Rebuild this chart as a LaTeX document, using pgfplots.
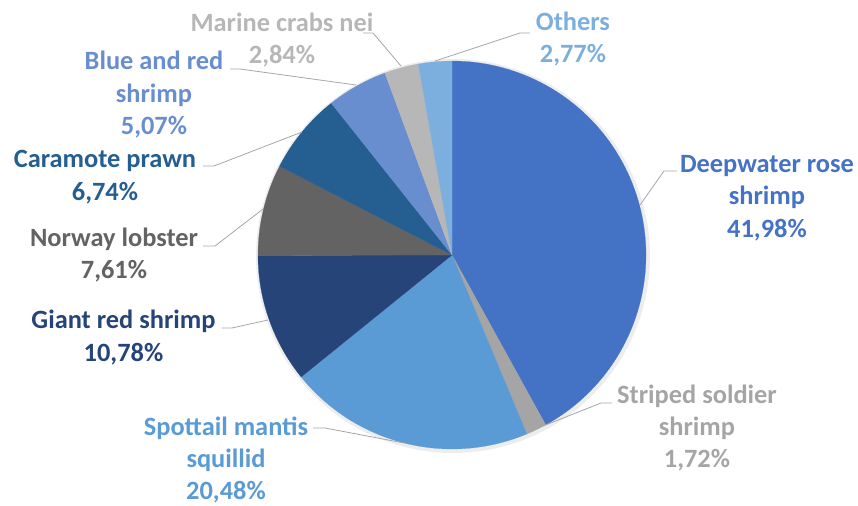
\documentclass[border=0pt]{standalone}
\usepackage{pgfplots}
\pgfplotsset{compat=1.18}
\usepackage{fontspec}
\setmainfont{Carlito}
\definecolor{cA}{HTML}{4472C4}
\definecolor{cB}{HTML}{A5A5A5}
\definecolor{cC}{HTML}{5B9BD5}
\definecolor{cD}{HTML}{264478}
\definecolor{cE}{HTML}{636363}
\definecolor{cF}{HTML}{255E91}
\definecolor{cG}{HTML}{698ED0}
\definecolor{cH}{HTML}{B7B7B7}
\definecolor{cI}{HTML}{7CAFDD}
\definecolor{leader}{HTML}{A6A6A6}
\newcommand{\lbl}{\fontsize{26.4bp}{32.5bp}\selectfont\bfseries}
% shares (%)
\def\vA{41.98}\def\vB{1.72}\def\vC{20.48}\def\vD{10.78}\def\vE{7.61}
\def\vF{6.74}\def\vG{5.07}\def\vH{2.84}\def\vI{2.77}
\begin{document}
\begin{tikzpicture}
\pgfmathsetmacro\aA{90}
\pgfmathsetmacro\aB{\aA-3.6*\vA}
\pgfmathsetmacro\aC{\aB-3.6*\vB}
\pgfmathsetmacro\aD{\aC-3.6*\vC}
\pgfmathsetmacro\aE{\aD-3.6*\vD}
\pgfmathsetmacro\aF{\aE-3.6*\vE}
\pgfmathsetmacro\aG{\aF-3.6*\vF}
\pgfmathsetmacro\aH{\aG-3.6*\vG}
\pgfmathsetmacro\aI{\aH-3.6*\vH}
\pgfmathsetmacro\aJ{-270}
\begin{axis}[width=858bp,height=504bp,scale only axis,hide axis,
  xmin=0,xmax=858,ymin=0,ymax=504,y dir=reverse,clip=false]
\addplot[draw=none] coordinates {(0,0) (858,504)};
% soft shadow
\addplot[fill=black,fill opacity=0.07,draw=none,domain=0:360,samples=150,variable=\t]
  ({453+197*cos(\t)},{256-197*sin(\t)}) -- cycle;
% slices
\addplot[fill=cA,draw=cA,line width=0.2pt,domain=\aB:\aA,samples=90,variable=\t]
  ({452+194*cos(\t)},{255-194*sin(\t)}) -- (axis cs:452,255) -- cycle;
\addplot[fill=cB,draw=cB,line width=0.2pt,domain=\aC:\aB,samples=10,variable=\t]
  ({452+194*cos(\t)},{255-194*sin(\t)}) -- (axis cs:452,255) -- cycle;
\addplot[fill=cC,draw=cC,line width=0.2pt,domain=\aD:\aC,samples=50,variable=\t]
  ({452+194*cos(\t)},{255-194*sin(\t)}) -- (axis cs:452,255) -- cycle;
\addplot[fill=cD,draw=cD,line width=0.2pt,domain=\aE:\aD,samples=30,variable=\t]
  ({452+194*cos(\t)},{255-194*sin(\t)}) -- (axis cs:452,255) -- cycle;
\addplot[fill=cE,draw=cE,line width=0.2pt,domain=\aF:\aE,samples=25,variable=\t]
  ({452+194*cos(\t)},{255-194*sin(\t)}) -- (axis cs:452,255) -- cycle;
\addplot[fill=cF,draw=cF,line width=0.2pt,domain=\aG:\aF,samples=25,variable=\t]
  ({452+194*cos(\t)},{255-194*sin(\t)}) -- (axis cs:452,255) -- cycle;
\addplot[fill=cG,draw=cG,line width=0.2pt,domain=\aH:\aG,samples=20,variable=\t]
  ({452+194*cos(\t)},{255-194*sin(\t)}) -- (axis cs:452,255) -- cycle;
\addplot[fill=cH,draw=cH,line width=0.2pt,domain=\aI:\aH,samples=12,variable=\t]
  ({452+194*cos(\t)},{255-194*sin(\t)}) -- (axis cs:452,255) -- cycle;
\addplot[fill=cI,draw=cI,line width=0.2pt,domain=\aJ:\aI,samples=12,variable=\t]
  ({452+194*cos(\t)},{255-194*sin(\t)}) -- (axis cs:452,255) -- cycle;
% leader lines
\addplot[leader,line width=0.8pt,sharp plot] coordinates {(677,171) (664,171) (640,205)};
\addplot[leader,line width=0.8pt,sharp plot] coordinates {(612,403) (601,403) (543,426)};
\addplot[leader,line width=0.8pt,sharp plot] coordinates {(313,428) (325,428) (404,443)};
\addplot[leader,line width=0.8pt,sharp plot] coordinates {(222,328) (232,328) (268,320)};
\addplot[leader,line width=0.8pt,sharp plot] coordinates {(203,246) (215,246) (263,209)};
\addplot[leader,line width=0.8pt,sharp plot] coordinates {(203,166) (214,166) (302,132)};
\addplot[leader,line width=0.8pt,sharp plot] coordinates {(230,69) (240,69) (356,85)};
\addplot[leader,line width=0.8pt,sharp plot] coordinates {(363,33) (373,33) (401,66)};
\addplot[leader,line width=0.8pt,sharp plot] coordinates {(530,33) (520,33) (435,61)};
% labels
\node[anchor=base,text=cA,font=\lbl] at (axis cs:767,172) {Deepwater rose};
\node[anchor=base,text=cA,font=\lbl] at (axis cs:767,204.5) {shrimp};
\node[anchor=base,text=cA,font=\lbl] at (axis cs:767,237) {41,98\%};
\node[anchor=base,text=cB,font=\lbl] at (axis cs:697,403) {Striped soldier};
\node[anchor=base,text=cB,font=\lbl] at (axis cs:697,435) {shrimp};
\node[anchor=base,text=cB,font=\lbl] at (axis cs:697,467) {1,72\%};
\node[anchor=base,text=cC,font=\lbl] at (axis cs:226,435) {Spottail mantis};
\node[anchor=base,text=cC,font=\lbl] at (axis cs:226,467) {squillid};
\node[anchor=base,text=cC,font=\lbl] at (axis cs:226,499) {20,48\%};
\node[anchor=base,text=cD,font=\lbl] at (axis cs:123.5,328) {Giant red shrimp};
\node[anchor=base,text=cD,font=\lbl] at (axis cs:123.5,361) {10,78\%};
\node[anchor=base,text=cE,font=\lbl] at (axis cs:114,246) {Norway lobster};
\node[anchor=base,text=cE,font=\lbl] at (axis cs:114,278) {7,61\%};
\node[anchor=base,text=cF,font=\lbl] at (axis cs:105,167) {Caramote prawn};
\node[anchor=base,text=cF,font=\lbl] at (axis cs:105,200) {6,74\%};
\node[anchor=base,text=cG,font=\lbl] at (axis cs:154,70) {Blue and red};
\node[anchor=base,text=cG,font=\lbl] at (axis cs:154,102.5) {shrimp};
\node[anchor=base,text=cG,font=\lbl] at (axis cs:154,135) {5,07\%};
\node[anchor=base,text=cH,font=\lbl] at (axis cs:282,32) {Marine crabs nei};
\node[anchor=base,text=cH,font=\lbl] at (axis cs:282,64) {2,84\%};
\node[anchor=base,text=cI,font=\lbl] at (axis cs:573,31) {Others};
\node[anchor=base,text=cI,font=\lbl] at (axis cs:573,63) {2,77\%};
\end{axis}
\end{tikzpicture}
\end{document}
